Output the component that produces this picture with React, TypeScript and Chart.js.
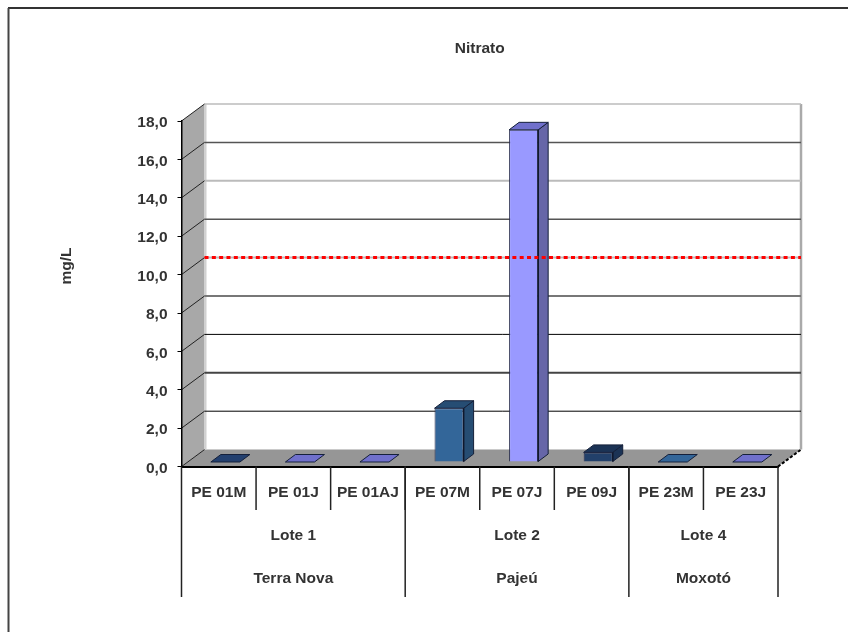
import React, { useEffect, useRef } from "react";
import { Chart, registerables } from "chart.js";

Chart.register(...registerables);

// Sample points and their measured nitrate
const sampleLabels = ["PE 01M", "PE 01J", "PE 01AJ", "PE 07M", "PE 07J", "PE 09J", "PE 23M", "PE 23J"];
const nitrateValues = [0, 0, 0, 2.8, 17.3, 0.5, 0, 0];
const limitValue = 10;

// Grouping rows under the sample labels: how many samples each group spans
const loteLabels = ["Lote 1", "Lote 2", "Lote 4"];
const regionLabels = ["Terra Nova", "Pajeú", "Moxotó"];
const groupSpans = [3, 3, 2];

// Bar faces
const frontColors = ["#22406a", "#9999ff", "#9999ff", "#336699", "#9999ff", "#22406a", "#336699", "#9999ff"];
const sideColors = ["#1b3355", "#6666a8", "#6666a8", "#264d73", "#6666a8", "#1b3355", "#264d73", "#6666a8"];
const topColors = ["#23406f", "#7070cc", "#7070cc", "#264d73", "#7070cc", "#1b3355", "#336699", "#7070cc"];

// Back wall rules, keyed by axis value
const ruleColors: Record<number, string> = {
  2: "#000000", 4: "#444444", 6: "#000000", 8: "#777777", 10: "#bbbbbb",
  12: "#555555", 14: "#bbbbbb", 16: "#555555", 18: "#bbbbbb",
};
const ruleWidths: Record<number, number> = {
  2: 1, 4: 2, 6: 1, 8: 2, 10: 2, 12: 1.5, 14: 2, 16: 1.5, 18: 1.5,
};

const FONT = '"Liberation Sans", Arial, sans-serif';
const TEXT = "#333333";
const WALL_DX = 23;
const WALL_DY = -17;
const BAR_DX = 6.6;
const BAR_DY = -4.6;
const BAR_DEPTH_X = 10;
const BAR_DEPTH_Y = -7.5;

function poly(ctx: CanvasRenderingContext2D, pts: number[][], fill?: string, stroke?: string, lw = 1) {
  ctx.beginPath();
  pts.forEach(([x, y], i) => (i ? ctx.lineTo(x, y) : ctx.moveTo(x, y)));
  ctx.closePath();
  if (fill) {
    ctx.fillStyle = fill;
    ctx.fill();
  }
  if (stroke) {
    ctx.strokeStyle = stroke;
    ctx.lineWidth = lw;
    ctx.stroke();
  }
}

function seg(ctx: CanvasRenderingContext2D, x1: number, y1: number, x2: number, y2: number, color: string, lw: number) {
  ctx.beginPath();
  ctx.moveTo(x1, y1);
  ctx.lineTo(x2, y2);
  ctx.strokeStyle = color;
  ctx.lineWidth = lw;
  ctx.stroke();
}

// Frame, side wall, floor and back wall rules of the 3D box
const boxPlugin = {
  id: "box3d",
  beforeDraw(chart: any) {
    const { ctx, chartArea: a, scales } = chart;
    const y = scales.y;
    ctx.save();
    ctx.fillStyle = "#ffffff";
    ctx.fillRect(0, 0, chart.width, chart.height);

    seg(ctx, 8, 8, chart.width, 8, "#333333", 2);
    seg(ctx, 8.5, 8, 8.5, chart.height, "#444444", 2);

    const b = a.left + WALL_DX;
    const r = a.right + WALL_DX;
    const top = a.top + WALL_DY;
    const bot = a.bottom + WALL_DY;

    poly(ctx, [[a.left, a.top], [b, top], [b, bot], [a.left, a.bottom]], "#a8a8a8");
    poly(ctx, [[a.left, a.bottom], [a.right, a.bottom], [r, bot], [b, bot]], "#969696");

    ctx.fillStyle = "#d0d0d0";
    ctx.fillRect(b, top, 2, bot - top);
    seg(ctx, r, top, r, bot, "#aaaaaa", 2.5);

    for (const t of y.ticks) {
      const py = y.getPixelForValue(t.value);
      if (t.value > 0) {
        seg(ctx, b, py + WALL_DY, r, py + WALL_DY, ruleColors[t.value], ruleWidths[t.value]);
      }
      seg(ctx, a.left, py, b, py + WALL_DY, "#222222", 1);
    }
    ctx.setLineDash([3, 2]);
    seg(ctx, a.right, a.bottom, r, bot, "#000000", 2);
    ctx.restore();
  },

  // Each dataset sits at its own depth inside the box
  beforeDatasetDraw(chart: any, args: any) {
    const { ctx } = chart;
    ctx.save();
    if (args.meta.type === "line") {
      ctx.translate(WALL_DX, WALL_DY);
      return;
    }
    ctx.translate(BAR_DX, BAR_DY);
    args.meta.data.forEach((el: any, i: number) => {
      const l = el.x - el.width / 2;
      const rr = el.x + el.width / 2;
      const dx = BAR_DEPTH_X;
      const dy = BAR_DEPTH_Y;
      if (el.base - el.y > 0.5) {
        poly(ctx, [[rr, el.y], [rr + dx, el.y + dy], [rr + dx, el.base + dy], [rr, el.base]], sideColors[i], "#15203a", 1);
      }
      poly(ctx, [[l, el.y], [l + dx, el.y + dy], [rr + dx, el.y + dy], [rr, el.y]], topColors[i], "#15203a", 1);
    });
  },
  afterDatasetDraw(chart: any, args: any) {
    const { ctx } = chart;
    if (args.meta.type === "bar") {
      args.meta.data.forEach((el: any) => {
        if (el.base - el.y > 0.5) {
          const rr = el.x + el.width / 2;
          seg(ctx, rr, el.y, rr, el.base, "#10182c", 1.5);
        }
      });
    }
    ctx.restore();
  },

  // Unit label and the grouped rows beneath the sample labels
  afterDraw(chart: any) {
    const { ctx, chartArea: a, scales } = chart;
    const x = scales.x;
    const cat = x.getPixelForValue(1) - x.getPixelForValue(0);
    const edge = (i: number) => x.getPixelForValue(0) - cat / 2 + i * cat;
    ctx.save();

    sampleLabels.forEach((_, i) => {
      if (i > 0) seg(ctx, edge(i), a.bottom, edge(i), 510, "#222222", 1.5);
    });

    ctx.font = `bold 15.5px ${FONT}`;
    ctx.fillStyle = TEXT;
    ctx.textAlign = "center";
    ctx.textBaseline = "middle";

    let start = 0;
    groupSpans.forEach((span, g) => {
      seg(ctx, edge(start), a.bottom, edge(start), 597, "#222222", 1.5);
      const mid = (edge(start) + edge(start + span)) / 2;
      ctx.fillText(loteLabels[g], mid, 536);
      ctx.fillText(regionLabels[g], mid, 579);
      start += span;
    });
    seg(ctx, edge(start), a.bottom, edge(start), 597, "#222222", 1.5);

    ctx.translate(67, 266);
    ctx.rotate(-Math.PI / 2);
    ctx.fillText("mg/L", 0, 0);
    ctx.restore();
  },
};

export default function App() {
  const ref = useRef<HTMLCanvasElement | null>(null);

  useEffect(() => {
    if (!ref.current) return;
    const chart = new Chart(ref.current, {
      type: "bar",
      data: {
        labels: sampleLabels,
        datasets: [
          {
            type: "bar",
            label: "Nitrato",
            data: nitrateValues,
            xAxisID: "x",
            yAxisID: "y",
            grouped: false,
            backgroundColor: frontColors,
            borderColor: "#2a2f4f",
            borderWidth: 1,
            barPercentage: 0.39,
            categoryPercentage: 1,
            clip: false,
            order: 2,
          },
          {
            type: "line",
            label: "Limite",
            data: [{ x: 0, y: limitValue }, { x: 1, y: limitValue }],
            xAxisID: "limitX",
            yAxisID: "y",
            parsing: false,
            borderColor: "#ff0000",
            borderWidth: 3,
            borderDash: [4, 3.33],
            pointRadius: 0,
            clip: false,
            order: 1,
          },
        ] as any,
      },
      options: {
        responsive: false,
        animation: false,
        layout: { padding: { left: 0, right: 70, top: 0, bottom: 0 } },
        plugins: {
          legend: { display: false },
          tooltip: { enabled: false },
          title: {
            display: true,
            text: "Nitrato",
            fullSize: false,
            color: TEXT,
            font: { family: FONT, size: 15.5, weight: "bold" },
            padding: { top: 39, bottom: 63.4 },
          },
        },
        scales: {
          x: {
            type: "category",
            offset: true,
            afterFit: (s: any) => {
              s.height = 165.4;
            },
            grid: { display: false },
            border: { display: true, color: "#000000", width: 2 },
            ticks: {
              color: TEXT,
              font: { family: FONT, size: 15.5, weight: "bold" },
              padding: 9,
              maxRotation: 0,
              autoSkip: false,
            },
          },
          limitX: { type: "linear", display: false, offset: false, min: 0, max: 1 },
          y: {
            min: 0,
            max: 18,
            afterFit: (s: any) => {
              s.width = 181.5;
            },
            grid: { drawOnChartArea: false, drawTicks: true, tickLength: 4, color: "#000000" },
            border: { display: true, color: "#000000", width: 1.5 },
            ticks: {
              stepSize: 2,
              color: TEXT,
              padding: 10,
              labelOffset: 2,
              font: { family: FONT, size: 15.5, weight: "bold" },
              callback: (v: any) => Number(v).toFixed(1).replace(".", ","),
            },
          },
        },
      } as any,
      plugins: [boxPlugin],
    });
    return () => chart.destroy();
  }, []);

  return <canvas ref={ref} width={848} height={632} style={{ position: "fixed", left: 0, top: 0, display: "block" }} />;
}
